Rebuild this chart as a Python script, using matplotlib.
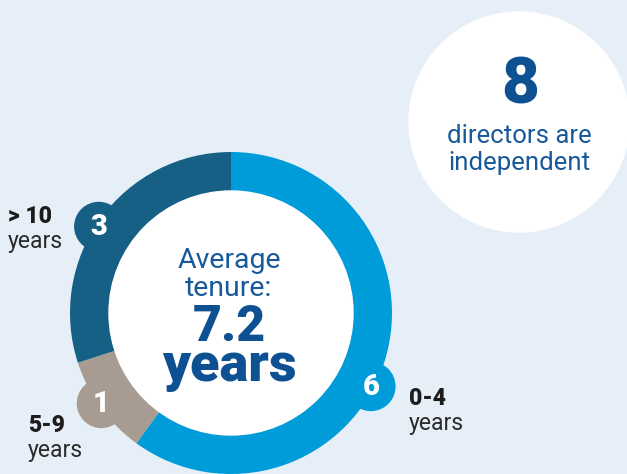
import matplotlib.pyplot as plt
from matplotlib.patches import Circle
import numpy as np

plt.rcParams['font.family'] = ['Roboto', 'DejaVu Sans']

# board tenure breakdown
groups = ['0-4', '5-9', '> 10']
counts = [6, 1, 3]
colors = ['#009bd9', '#a89b91', '#165f85']
avg_tenure = 7.2
independent = 8

bg = '#e6eff7'
navy = '#0d5192'

fig = plt.figure(figsize=(6.27, 4.74), dpi=100, facecolor=bg)
ax = fig.add_axes([0, 0, 1, 1])

cx, cy, r_out, ring = 231, 161, 161, 39
ax.pie(counts, colors=colors, center=(cx, cy), radius=r_out, startangle=90,
       counterclock=False, wedgeprops=dict(width=ring, linewidth=0),
       frame=True)
ax.set_xlim(0, 627)
ax.set_ylim(0, 474)
ax.set_aspect('equal')
ax.axis('off')
ax.add_patch(Circle((cx, cy), r_out - ring, color='white', zorder=3))

# number badges sitting on the ring
badge_angles = [-27.7, 214.9, 146.8]
for n, c, ang in zip(counts, colors, badge_angles):
    bx = cx + 158 * np.cos(np.radians(ang))
    by = cy + 158 * np.sin(np.radians(ang))
    ax.add_patch(Circle((bx, by), 24, color=c, zorder=4))
    ax.text(bx, by - 1, str(n), color='white', fontsize=21, fontweight='black',
            ha='center', va='center', zorder=5)

# group labels
label_pos = [(409, 69), (28, 42), (8, 251)]
for g, (lx, ly) in zip(groups, label_pos):
    ax.text(lx, ly, g, fontsize=16.5, fontweight='black', color='#1c1c1c',
            ha='left', va='baseline')
    ax.text(lx, ly - 25, 'years', fontsize=16.5, fontweight='normal',
            color='#2a2a2a', ha='left', va='baseline')

# centre text
ax.text(cx - 2, 206, 'Average', fontsize=20.5, fontweight='normal',
        color='#17599a', ha='center', va='baseline', zorder=5)
ax.text(cx - 2, 178, 'tenure:', fontsize=20.5, fontweight='normal',
        color='#17599a', ha='center', va='baseline', zorder=5)
ax.text(cx - 2, 133, f'{avg_tenure}', fontsize=36, fontweight='black',
        color=navy, ha='center', va='baseline', zorder=5)
ax.text(cx - 2, 93, 'years', fontsize=39, fontweight='black', color=navy,
        ha='center', va='baseline', zorder=5)

# independent directors bubble
ax.add_patch(Circle((519, 352), 110, color='white', zorder=2))
ax.text(520, 371, str(independent), fontsize=47, fontweight='black',
        color=navy, ha='center', va='baseline', zorder=5)
ax.text(519, 331, 'directors are', fontsize=18.5, fontweight='normal',
        color='#17599a', ha='center', va='baseline', zorder=5)
ax.text(519, 304, 'independent', fontsize=18.5, fontweight='normal',
        color='#17599a', ha='center', va='baseline', zorder=5)

fig.savefig('out.png', dpi=100, facecolor=bg)
